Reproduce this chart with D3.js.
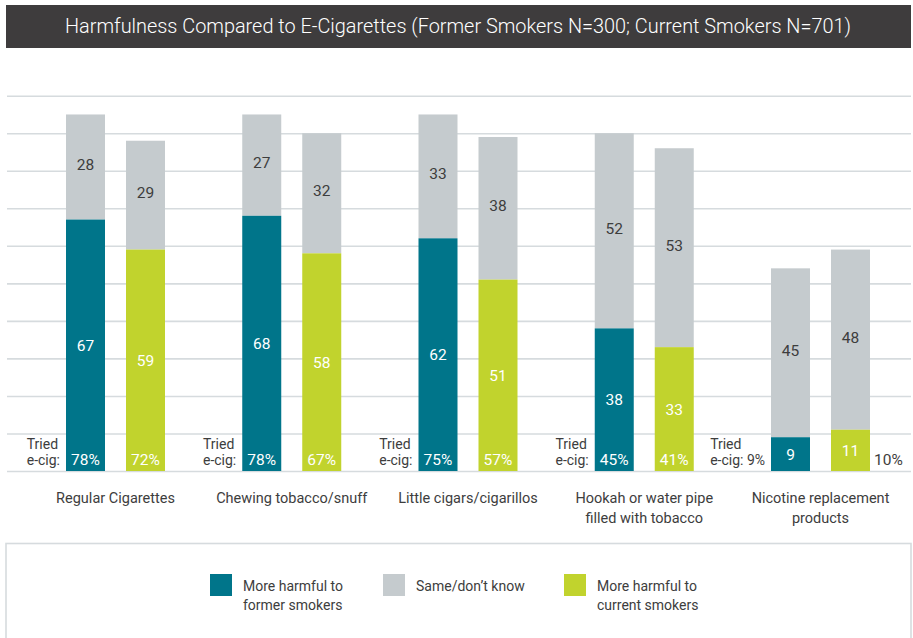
<!DOCTYPE html>
<html>
<head>
<meta charset="utf-8">
<script src="https://cdn.jsdelivr.net/npm/d3@7"></script>
<style>
  body { margin: 0; background: #fff; }
  svg { display: block; font-family: Roboto, "DejaVu Sans", sans-serif; }
</style>
</head>
<body>
<svg id="drawing_region"></svg>
<script>
// data
const categories = ['Regular Cigarettes', 'Chewing tobacco/snuff', 'Little cigars/cigarillos',
                    'Hookah or water pipe filled with tobacco', 'Nicotine replacement products'];
const categoryLines = [['Regular Cigarettes'], ['Chewing tobacco/snuff'], ['Little cigars/cigarillos'],
                       ['Hookah or water pipe', 'filled with tobacco'], ['Nicotine replacement', 'products']];
const groups = ['former', 'current'];
const formerHarmful = [67, 68, 62, 38, 9];
const formerSame = [28, 27, 33, 52, 45];
const currentHarmful = [59, 58, 51, 33, 11];
const currentSame = [29, 32, 38, 53, 48];
const triedFormer = [78, 78, 75, 45, 9];
const triedCurrent = [72, 67, 57, 41, 10];
const gridTicks = d3.range(0, 101, 10);
const legendLabels = [['More harmful to', 'former smokers'], ['Same/don\u2019t know'], ['More harmful to', 'current smokers']];
const title = 'Harmfulness Compared to E-Cigarettes (Former Smokers N=300; Current Smokers N=701)';

const colors = { former: '#00758a', same: '#c5cbce', current: '#c1d32d' };
const textDark = '#3d3d3d';

const width = 913, height = 638;
const svg = d3.select('#drawing_region').attr('width', width).attr('height', height);

// title bar
svg.append('rect').attr('x', 6).attr('y', 5).attr('width', 905).attr('height', 43).attr('fill', '#3e3c3d');
svg.append('text')
    .attr('x', 458).attr('y', 33)
    .attr('text-anchor', 'middle')
    .attr('fill', '#fff')
    .attr('font-size', 20)
    .attr('font-weight', 300)
    .attr('textLength', 786)
    .attr('lengthAdjust', 'spacingAndGlyphs')
    .text(title);

// scales
const yscale = d3.scaleLinear().domain([0, 100]).range([471, 95.7]);
const x0 = d3.scalePoint().domain(categories).range([115.5, 820.5]);
const x1 = d3.scaleBand().domain(groups).range([-49.5, 49.5]).paddingInner(0.35);

// gridlines
const grid = svg.append('g').attr('transform', 'translate(7,0)')
    .call(d3.axisLeft(yscale).tickValues(gridTicks).tickSize(-904).tickFormat(''));
grid.select('.domain').remove();
grid.selectAll('.tick line').attr('stroke', '#d6dbde').attr('stroke-width', 1.6);

// rows: one per bar
const rows = [];
categories.forEach((c, i) => {
    rows.push({ cat: c, i: i, group: 'former', harm: formerHarmful[i], same: formerSame[i], tried: triedFormer[i] });
    rows.push({ cat: c, i: i, group: 'current', harm: currentHarmful[i], same: currentSame[i], tried: triedCurrent[i] });
});
const bx = d => x0(d.cat) + x1(d.group);
const bw = x1.bandwidth();

const bars = svg.append('g').selectAll('g').data(rows).join('g');

bars.append('rect')
    .attr('x', bx).attr('width', bw)
    .attr('y', d => yscale(d.harm + d.same))
    .attr('height', d => yscale(d.harm) - yscale(d.harm + d.same))
    .attr('fill', colors.same);

bars.append('rect')
    .attr('x', bx).attr('width', bw)
    .attr('y', d => yscale(d.harm))
    .attr('height', d => yscale(0) - yscale(d.harm))
    .attr('fill', d => colors[d.group]);

// value labels
bars.append('text')
    .attr('x', d => bx(d) + bw / 2)
    .attr('y', d => yscale(d.harm / 2) + 5.5)
    .attr('text-anchor', 'middle')
    .attr('fill', '#fff')
    .attr('font-size', 15.5)
    .text(d => d.harm);

bars.append('text')
    .attr('x', d => bx(d) + bw / 2)
    .attr('y', d => yscale(d.harm + d.same / 2) + 3)
    .attr('text-anchor', 'middle')
    .attr('fill', textDark)
    .attr('font-size', 15.5)
    .text(d => d.same);

// tried e-cig percentages
const inside = d => d.harm >= 20;
bars.filter(inside).append('text')
    .attr('x', d => bx(d) + bw / 2)
    .attr('y', 465)
    .attr('text-anchor', 'middle')
    .attr('fill', '#fff')
    .attr('font-size', 15.5)
    .text(d => d.tried + '%');

bars.filter(d => !inside(d) && d.group === 'current').append('text')
    .attr('x', d => bx(d) + bw + 4)
    .attr('y', 465)
    .attr('fill', textDark)
    .attr('font-size', 15.5)
    .text(d => d.tried + '%');

// "Tried e-cig:" labels, left of the former bar
bars.filter(d => d.group === 'former').each(function(d) {
    const g = d3.select(this);
    const second = g.append('text')
        .attr('x', bx(d) - 6)
        .attr('y', 465)
        .attr('text-anchor', 'end')
        .attr('fill', textDark)
        .attr('font-size', 14)
        .text(inside(d) ? 'e-cig:' : 'e-cig: ' + d.tried + '%');
    const left = bx(d) - 6 - second.node().getComputedTextLength();
    g.append('text')
        .attr('x', left)
        .attr('y', 448.5)
        .attr('fill', textDark)
        .attr('font-size', 14)
        .text('Tried');
});

// category labels
const catLabels = svg.append('g').selectAll('text').data(categories).join('text')
    .attr('x', d => x0(d))
    .attr('y', 503)
    .attr('text-anchor', 'middle')
    .attr('fill', textDark)
    .attr('font-size', 14.5);
catLabels.selectAll('tspan').data((d, i) => categoryLines[i]).join('tspan')
    .attr('x', function() { return d3.select(this.parentNode).attr('x'); })
    .attr('dy', (d, j) => j === 0 ? 0 : 19.5)
    .text(d => d);

// legend
svg.append('rect')
    .attr('x', 6).attr('y', 543.5).attr('width', 905).attr('height', 130)
    .attr('fill', 'none').attr('stroke', '#d6dbde').attr('stroke-width', 1.6);

const legendX = [210, 383, 564];
const legendColors = [colors.former, colors.same, colors.current];
const legend = svg.append('g').selectAll('g').data(legendLabels).join('g')
    .attr('transform', (d, i) => `translate(${legendX[i]},574)`);
legend.append('rect').attr('width', 22).attr('height', 22).attr('fill', (d, i) => legendColors[i]);
legend.append('text')
    .attr('x', 33).attr('y', 17)
    .attr('fill', textDark)
    .attr('font-size', 14)
    .selectAll('tspan').data(d => d).join('tspan')
    .attr('x', 33)
    .attr('dy', (d, j) => j === 0 ? 0 : 19)
    .text(d => d);
</script>
</body>
</html>
